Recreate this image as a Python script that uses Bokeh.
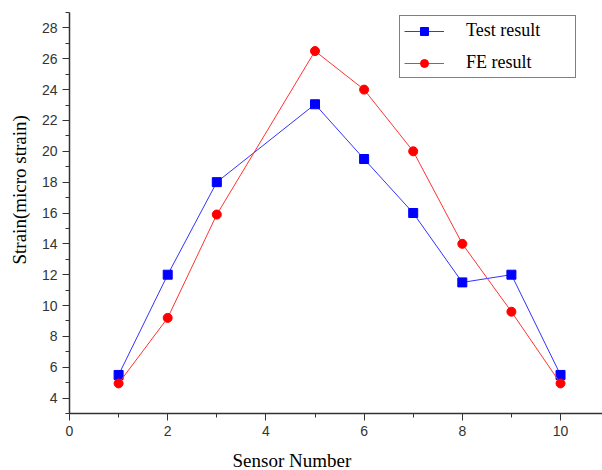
from bokeh.plotting import figure
from bokeh.models import Range1d, Legend, LegendItem, Title, SingleIntervalTicker
from bokeh.embed import file_html
from bokeh.resources import INLINE

sensors_test = [1, 2, 3, 5, 6, 7, 8, 9, 10]
test_result = [5.5, 12.0, 18.0, 23.05, 19.5, 16.0, 11.5, 12.0, 5.5]
sensors_fe = [1, 2, 3, 5, 6, 7, 8, 9, 10]
fe_result = [4.95, 9.2, 15.9, 26.5, 24.0, 20.0, 14.0, 9.6, 4.95]

x_label = "Sensor Number"
y_label = "Strain(micro strain)"

p = figure(width=602, height=470, output_backend="svg", toolbar_location=None,
           x_range=Range1d(0, 10.855), y_range=Range1d(3, 29),
           min_border_left=69, min_border_right=0, min_border_top=12, min_border_bottom=56)
p.outline_line_color = None
p.xgrid.visible = False
p.ygrid.visible = False
p.background_fill_color = "white"
p.border_fill_color = "white"

for ax in (p.xaxis[0], p.yaxis[0]):
    ax.axis_line_color = "#333333"
    ax.axis_line_width = 1.5
    ax.major_tick_line_color = "#333333"
    ax.minor_tick_line_color = "#333333"
    ax.major_tick_out = 7
    ax.major_tick_in = 0
    ax.minor_tick_out = 4
    ax.minor_tick_in = 0
    ax.major_label_text_font = "Liberation Sans"
    ax.major_label_text_font_size = "14px"
    ax.major_label_text_color = "#333333"
    ax.major_label_standoff = 5

p.xaxis[0].ticker = SingleIntervalTicker(interval=2, num_minor_ticks=2)
p.yaxis[0].ticker = SingleIntervalTicker(interval=2, num_minor_ticks=2)

lt = p.line(sensors_test, test_result, line_color="#3333ff", line_width=1)
mt = p.scatter(sensors_test, test_result, marker="square", size=9, fill_color="#0000ff", line_color="#0000ff")
lf = p.line(sensors_fe, fe_result, line_color="#ff3333", line_width=1)
mf = p.scatter(sensors_fe, fe_result, marker="circle", size=9, fill_color="#ff0000", line_color="#ff0000")

legend = Legend(items=[LegendItem(label="Test result", renderers=[lt, mt]),
                       LegendItem(label="FE result", renderers=[lf, mf])],
                location=(330, 335))
legend.label_text_font = "Liberation Serif"
legend.label_text_font_size = "18px"
legend.label_text_color = "black"
legend.glyph_width = 40
legend.glyph_height = 20
legend.label_height = 20
legend.label_width = 105
legend.label_standoff = 22
legend.spacing = 11
legend.padding = 4
legend.margin = 0
legend.border_line_color = "black"
legend.border_line_width = 1.5
legend.background_fill_alpha = 1
p.add_layout(legend, "center")

# small spacers between the axes and their labels
p.add_layout(Title(text=" ", text_font_size="7px", standoff=0), "left")
p.add_layout(Title(text=y_label, align="left", offset=149, standoff=0,
                   text_font="Liberation Serif", text_font_size="19px",
                   text_font_style="normal", text_color="black"), "left")
p.add_layout(Title(text=" ", text_font_size="7px", standoff=0), "below")
p.add_layout(Title(text=x_label, align="left", offset=163, standoff=0,
                   text_font="Liberation Serif", text_font_size="19px",
                   text_font_style="normal", text_color="black"), "below")

open("out.html", "w").write(file_html(p, INLINE))
